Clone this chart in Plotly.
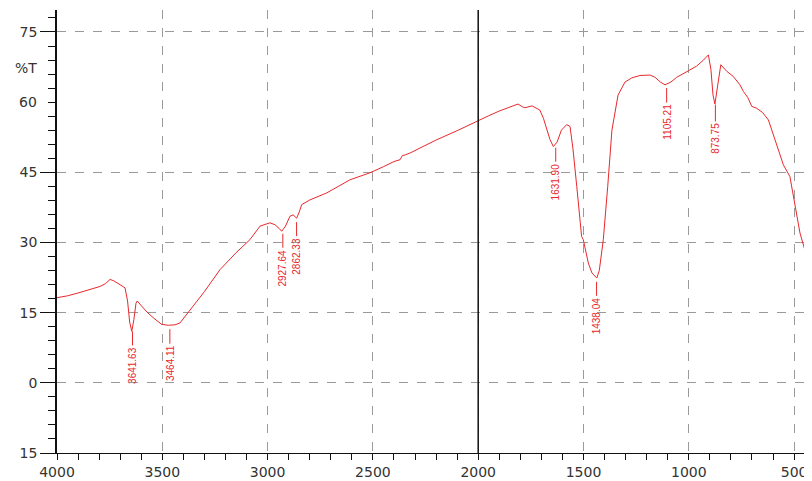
import numpy as np
import plotly.graph_objects as go

# Wavenumber (cm-1) and transmittance (%T)
wavenumber = [4000, 3950, 3900, 3843, 3796, 3770, 3748, 3730, 3700, 3677, 3665, 3655, 3645, 3635,
              3625, 3619, 3600, 3570, 3540, 3503, 3471, 3440, 3416, 3378, 3300, 3226, 3150, 3084,
              3036, 2989, 2965, 2945, 2933, 2915, 2894, 2879, 2862, 2850, 2838, 2799, 2719, 2609,
              2514, 2450, 2400, 2371, 2360, 2348, 2320, 2276, 2200, 2100, 2006, 1950, 1900, 1849,
              1811, 1790, 1778, 1744, 1720, 1707, 1690, 1670, 1659, 1643, 1625, 1605, 1580, 1564,
              1550, 1532, 1509, 1501, 1477, 1460, 1437, 1425, 1414, 1406, 1385, 1365, 1336, 1303,
              1270, 1232, 1184, 1160, 1135, 1113, 1085, 1058, 1002, 963, 930, 907, 895, 885, 876,
              866, 852, 848, 820, 789, 757, 741, 720, 701, 678, 650, 622, 590, 551, 520, 496, 472,
              440, 415]
transmittance = [18.2, 18.6, 19.2, 19.9, 20.6, 21.2, 22.1, 21.8, 21.0, 20.3, 17.5, 13.0, 11.0, 13.5,
                 17.0, 17.5, 16.5, 15.0, 13.8, 12.5, 12.3, 12.4, 12.8, 15.0, 19.5, 24.2, 27.8, 30.6,
                 33.5, 34.2, 33.8, 33.0, 32.4, 33.5, 35.6, 35.9, 35.2, 36.5, 38.1, 39.1, 40.6, 43.4,
                 44.9, 46.2, 47.3, 47.7, 48.6, 48.7, 49.2, 50.2, 51.9, 53.9, 56.0, 57.1, 58.1, 59.0,
                 59.6, 59.0, 58.8, 59.2, 58.6, 58.3, 56.5, 53.5, 52.0, 50.5, 51.5, 54.0, 55.2, 54.8,
                 50.0, 42.0, 31.3, 30.6, 25.6, 23.5, 22.4, 24.0, 27.8, 30.6, 42.0, 54.0, 61.5, 64.3,
                 65.2, 65.7, 65.8, 65.3, 64.3, 63.7, 64.3, 65.3, 66.7, 67.7, 69.0, 70.1, 67.0, 61.5, 59.6,
                 63.0, 67.7, 68.0, 66.6, 65.5, 63.7, 62.3, 61.0, 59.1, 58.7, 57.8, 56.2, 52.0, 46.6, 44.1,
                 37.7, 32.0, 27.0, 23.5]

# Labelled peaks
peak_positions = [3641.63, 3464.11, 2927.64, 2862.33, 1631.90, 1438.04, 1105.21, 873.75]
peak_labels = ["3641.63", "3464.11", "2927.64", "2862.33", "1631.90", "1438.04", "1105.21", "873.75"]

x_ticks = [4000, 3500, 3000, 2500, 2000, 1500, 1000, 500]
y_ticks = [-15, 0, 15, 30, 45, 75]
y_ticktext = ["15", "0", "15", "30", "45", "75"]

RED = "#e8282c"
TICKFONT = dict(family="DejaVu Sans, Liberation Sans, Arial", size=14, color="#333333")

fig = go.Figure()
fig.add_trace(go.Scatter(x=wavenumber, y=transmittance, mode="lines",
                         line=dict(color=RED, width=1), hoverinfo="skip", showlegend=False))

# Peak annotations (y taken from the traced curve)
wn_asc = np.array(wavenumber[::-1], dtype=float)
t_asc = np.array(transmittance[::-1], dtype=float)
for pos, lab in zip(peak_positions, peak_labels):
    yv = float(np.interp(pos, wn_asc, t_asc))
    fig.add_annotation(x=pos, y=yv, text=lab, textangle=-90, showarrow=True,
                       arrowhead=0, arrowwidth=1, arrowcolor=RED, ax=0, ay=38, standoff=4,
                       font=dict(family="Liberation Sans Narrow, Arial Narrow, Liberation Sans", size=10,
                                 color=RED))

# Extra y labels
fig.add_annotation(xref="paper", yref="y", x=-0.024, y=60, text="60", showarrow=False,
                   xanchor="right", font=TICKFONT)
fig.add_annotation(xref="paper", yref="y", x=-0.024, y=67.3, text="%T", showarrow=False,
                   xanchor="right", font=TICKFONT)

fig.add_vline(x=2000, line=dict(color="#111111", width=1.5))

fig.update_xaxes(range=[4000, 415], tickmode="array", tickvals=x_ticks, automargin=False,
                 ticks="outside", ticklen=6, tickcolor="#111", tickwidth=1,
                 minor=dict(dtick=100, tick0=0, ticks="outside", ticklen=6, tickcolor="#111", showgrid=False),
                 showgrid=True, gridcolor="#9a9a9a", griddash="dash", gridwidth=1,
                 showline=True, linecolor="#111", linewidth=1.2, zeroline=False,
                 tickfont=TICKFONT)
fig.update_yaxes(range=[-15, 79.7], tickmode="array", tickvals=y_ticks, ticktext=y_ticktext,
                 automargin=False,
                 ticks="outside", ticklen=15, tickcolor="#111", tickwidth=1,
                 minor=dict(dtick=3, tick0=0, ticks="outside", ticklen=7, tickcolor="#111", showgrid=False),
                 showgrid=True, gridcolor="#9a9a9a", griddash="dash", gridwidth=1,
                 showline=True, linecolor="#111", linewidth=1.5, zeroline=False,
                 tickfont=TICKFONT)

# page body has an 8px margin, so the figure is sized to fit the 812x481 window
fig.update_layout(width=804, height=473, margin=dict(l=49, r=0, t=2, b=28),
                  plot_bgcolor="white", paper_bgcolor="white")

fig.write_html("out.html")
